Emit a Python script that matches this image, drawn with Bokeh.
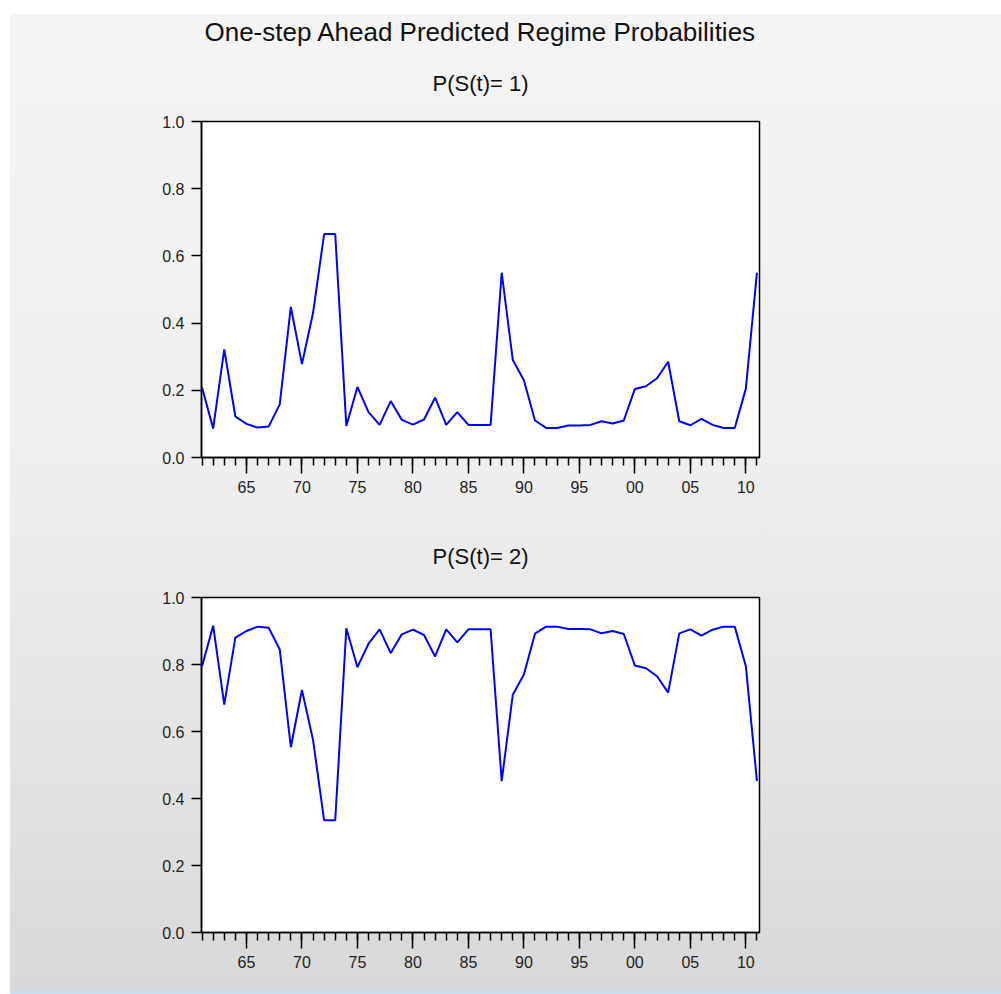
from bokeh.plotting import figure
from bokeh.layouts import column
from bokeh.models import FixedTicker, Title, NumeralTickFormatter
from bokeh.embed import file_html
from bokeh.resources import INLINE

main_title = "One-step Ahead Predicted Regime Probabilities"
subtitles = ["P(S(t)= 1)", "P(S(t)= 2)"]

years = list(range(1961, 2012))

p_regime1 = [0.208, 0.086, 0.322, 0.122, 0.100, 0.089, 0.092, 0.158, 0.448, 0.278,
             0.430, 0.665, 0.665, 0.094, 0.210, 0.135, 0.097, 0.168, 0.112, 0.098,
             0.113, 0.178, 0.097, 0.135, 0.097, 0.097, 0.097, 0.550, 0.290, 0.230,
             0.110, 0.088, 0.088, 0.095, 0.095, 0.097, 0.108, 0.101, 0.110, 0.204,
             0.212, 0.236, 0.285, 0.108, 0.096, 0.115, 0.097, 0.088, 0.088, 0.205,
             0.550]

p_regime2 = [0.795, 0.916, 0.680, 0.880, 0.900, 0.913, 0.910, 0.845, 0.553, 0.724,
             0.575, 0.335, 0.335, 0.908, 0.792, 0.862, 0.905, 0.834, 0.890, 0.904,
             0.888, 0.824, 0.905, 0.866, 0.905, 0.905, 0.905, 0.452, 0.710, 0.770,
             0.892, 0.913, 0.913, 0.906, 0.906, 0.905, 0.893, 0.900, 0.891, 0.797,
             0.789, 0.765, 0.716, 0.893, 0.905, 0.886, 0.904, 0.913, 0.913, 0.795,
             0.452]

x_major = [1965, 1970, 1975, 1980, 1985, 1990, 1995, 2000, 2005, 2010]
x_labels = ["65", "70", "75", "80", "85", "90", "95", "00", "05", "10"]
y_ticks = [0.0, 0.2, 0.4, 0.6, 0.8, 1.0]

FONT = "Liberation Sans"


def make_panel(values, subtitle, height, top, bottom, with_main, sub_standoff, sub_valign):
    p = figure(width=1001, height=height, output_backend="svg", toolbar_location=None,
               x_range=(1960.95, 2011.23), y_range=(0.0, 1.0),
               min_border_left=201, min_border_right=242,
               min_border_top=top, min_border_bottom=bottom,
               border_fill_color=None, background_fill_color="white",
               outline_line_color="black", outline_line_width=1.5)
    if with_main:
        p.title.text = main_title
        p.title.align = "center"
        p.title.text_font = FONT
        p.title.text_font_size = "26px"
        p.title.text_font_style = "normal"
        p.title.text_color = "#111111"
        p.title.standoff = 0
    p.add_layout(Title(text=subtitle, align="center", text_font=FONT,
                       text_font_size="22px", text_font_style="normal",
                       text_color="#111111", standoff=sub_standoff,
                       vertical_align=sub_valign), "above")
    p.line(years, values, line_color="#0000ff", line_width=2)

    p.xgrid.visible = False
    p.ygrid.visible = False

    xa = p.xaxis[0]
    xa.ticker = FixedTicker(ticks=x_major, minor_ticks=years)
    xa.major_label_overrides = {y: l for y, l in zip(x_major, x_labels)}
    xa.major_tick_out = 16
    xa.major_tick_in = 0
    xa.minor_tick_out = 8
    xa.minor_tick_in = 0
    xa.major_label_standoff = 7
    xa.axis_line_color = "black"
    xa.axis_line_width = 1.5
    xa.major_tick_line_width = 1.5
    xa.minor_tick_line_width = 1.5
    xa.major_label_text_font = FONT
    xa.major_label_text_font_size = "16px"
    xa.major_label_text_color = "#222222"

    ya = p.yaxis[0]
    ya.ticker = FixedTicker(ticks=y_ticks, minor_ticks=[])
    ya.formatter = NumeralTickFormatter(format="0.0")
    ya.major_tick_out = 10
    ya.major_tick_in = 0
    ya.minor_tick_out = 0
    ya.minor_tick_in = 0
    ya.major_label_standoff = 7
    ya.axis_line_color = "black"
    ya.axis_line_width = 1.5
    ya.major_tick_line_width = 1.5
    ya.major_label_text_font = FONT
    ya.major_label_text_font_size = "16px"
    ya.major_label_text_color = "#222222"
    return p


p1 = make_panel(p_regime1, subtitles[0], 500, 121, 43, True, 48, "top")
p2 = make_panel(p_regime2, subtitles[1], 494, 97, 62, False, 57, "bottom")

layout = column(p1, p2, spacing=0, styles={
    "background": ("linear-gradient(to right, #ffffff 0px, #ffffff 10px, transparent 10px), "
                   "linear-gradient(to bottom, #ffffff 0px, #ffffff 14px, #f4f4f4 14px, "
                   "#efefef 45%, #e2e2e2 80%, #d8d8d8 calc(100% - 3px), "
                   "#cbdbf0 calc(100% - 3px), #cbdbf0 100%)")
})

open("out.html", "w").write(file_html(layout, INLINE))
